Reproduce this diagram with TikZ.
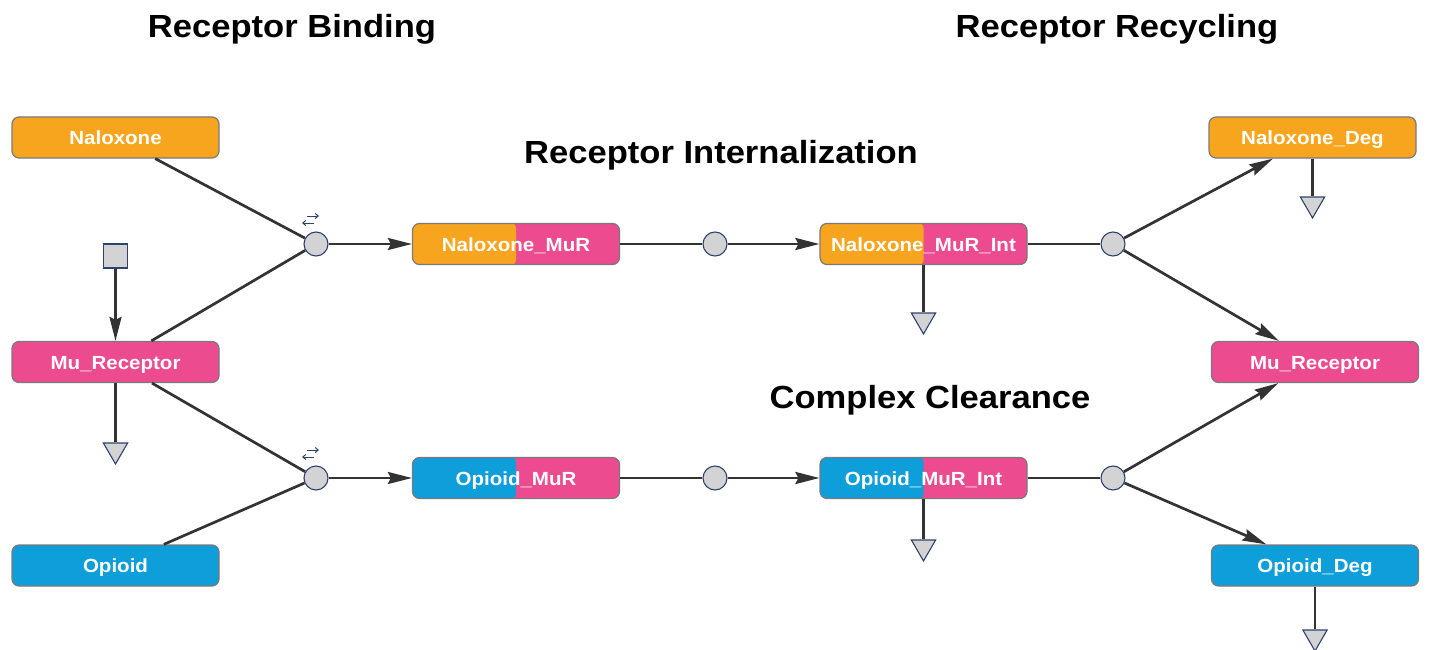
\documentclass[tikz,border=0pt]{standalone}
\usepackage{fontspec}
\setmainfont{Liberation Sans}
\newfontfamily\labelfont[FakeStretch=1.08]{Liberation Sans}
\usetikzlibrary{arrows.meta,shapes.geometric}

\definecolor{naloxone}{HTML}{F7A51E}
\definecolor{receptor}{HTML}{EC4B8F}
\definecolor{opioid}{HTML}{0E9ED9}
\definecolor{edgegray}{HTML}{333333}
\definecolor{glyphline}{HTML}{2E4270}
\definecolor{glyphfill}{HTML}{D3D3D3}
\definecolor{boxline}{HTML}{7A7A7A}

\tikzset{
  species/.style={rectangle, rounded corners=7pt, draw=boxline, line width=1.2pt,
    minimum width=207pt, minimum height=41pt, inner sep=0pt, text=white,
    text height=14pt, text depth=0pt,
    font=\labelfont\bfseries\fontsize{19}{19}\selectfont},
  % two-colour complex: right half is the node fill, left half painted on top
  complex/.style 2 args={species, fill=#2, path picture={
    \fill[#1] ([shift={(-2pt,-2pt)}]path picture bounding box.south west)
      rectangle ([yshift=2pt]path picture bounding box.north);}},
  process/.style={circle, draw=glyphline, fill=glyphfill, line width=1.1pt,
    minimum size=24pt, inner sep=0pt},
  source/.style={rectangle, draw=glyphline, fill=glyphfill, line width=1.1pt,
    minimum size=24pt, inner sep=0pt},
  sinkmark/.style={regular polygon, regular polygon sides=3, shape border rotate=180,
    draw=glyphline, fill=glyphfill, line width=1.1pt, minimum size=28pt, inner sep=0pt},
  conn/.style={draw=edgegray, line width=2.7pt},
  flow/.style={conn, -{Stealth[length=24pt,width=12pt,inset=3pt]}},
  revtip/.style={draw=glyphline, line width=1pt, -{Straight Barb[length=3pt,width=5pt]}},
  heading/.style={anchor=base, font=\labelfont\bfseries\fontsize{32}{32}\selectfont}
}

\begin{document}
\begin{tikzpicture}[x=1pt,y=-1pt]
\useasboundingbox (0,0) rectangle (1429,650);

% section headings
\node[heading] (hBind) at (292,38) {Receptor Binding};
\node[heading] (hRec) at (1117,38) {Receptor Recycling};
\node[heading] (hInt) at (721,163) {Receptor Internalization};
\node[heading] (hClr) at (930,408) {Complex Clearance};

% species on the left
\node[species, fill=naloxone] (nal) at (115.5,137.5) {Naloxone};
\node[species, fill=receptor] (muL) at (115.5,362) {Mu\_Receptor};
\node[species, fill=opioid] (opi) at (115.5,565.5) {Opioid};
\node[source] (src) at (115.5,256) {};
\node[sinkmark] (sinkMu) at (115.5,450) {};

% binding processes
\node[process] (bindN) at (316,244) {};
\node[process] (bindO) at (316,478) {};

% complexes
\node[complex={naloxone}{receptor}] (nalMuR) at (516,244) {Naloxone\_MuR};
\node[complex={opioid}{receptor}] (opiMuR) at (516,478) {Opioid\_MuR};
\node[process] (intN) at (715,244) {};
\node[process] (intO) at (715,478) {};
\node[complex={naloxone}{receptor}] (nalInt) at (923.5,244) {Naloxone\_MuR\_Int};
\node[complex={opioid}{receptor}] (opiInt) at (923.5,478) {Opioid\_MuR\_Int};
\node[sinkmark] (sinkNalInt) at (923.5,320) {};
\node[sinkmark] (sinkOpiInt) at (923.5,547) {};

% recycling processes and products
\node[process] (recN) at (1113,244) {};
\node[process] (recO) at (1113,478) {};
\node[species, fill=naloxone] (nalDeg) at (1312.5,137.5) {Naloxone\_Deg};
\node[species, fill=receptor] (muR) at (1315,362) {Mu\_Receptor};
\node[species, fill=opioid] (opiDeg) at (1315,565.5) {Opioid\_Deg};
\node[sinkmark] (sinkNalDeg) at (1312.5,204) {};
\node[sinkmark] (sinkOpiDeg) at (1315,637) {};

% receptor synthesis and loss
\draw[flow] (src) -- (muL);
\draw[conn] (muL) -- (sinkMu);

% binding
\draw[conn] (nal) -- (bindN);
\draw[conn] (muL) -- (bindN);
\draw[flow] (bindN) -- (nalMuR);
\draw[conn] (muL) -- (bindO);
\draw[conn] (opi) -- (bindO);
\draw[flow] (bindO) -- (opiMuR);

% reversibility marks
\draw[revtip] ([shift={(-9,-28)}]bindN.center) -- ++(12,0);
\draw[revtip] ([shift={(-2,-21)}]bindN.center) -- ++(-12,0);
\draw[revtip] ([shift={(-9,-28)}]bindO.center) -- ++(12,0);
\draw[revtip] ([shift={(-2,-21)}]bindO.center) -- ++(-12,0);

% internalization
\draw[conn] (nalMuR) -- (intN);
\draw[flow] (intN) -- (nalInt);
\draw[conn] (opiMuR) -- (intO);
\draw[flow] (intO) -- (opiInt);
\draw[conn] (nalInt) -- (sinkNalInt);
\draw[conn] (opiInt) -- (sinkOpiInt);

% recycling
\draw[conn] (nalInt) -- (recN);
\draw[flow] (recN) -- (nalDeg);
\draw[flow] (recN) -- (muR);
\draw[conn] (opiInt) -- (recO);
\draw[flow] (recO) -- (muR);
\draw[flow] (recO) -- (opiDeg);
\draw[conn] (nalDeg) -- (sinkNalDeg);
\draw[conn] (opiDeg) -- (sinkOpiDeg);
\end{tikzpicture}
\end{document}
